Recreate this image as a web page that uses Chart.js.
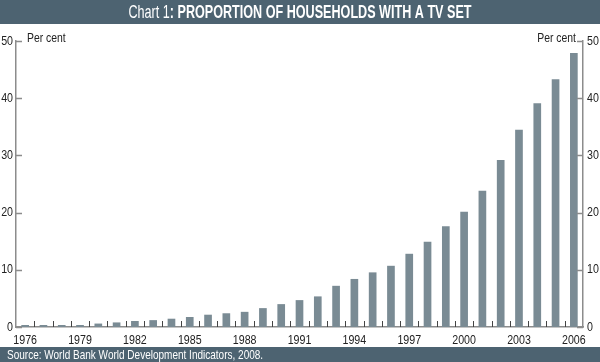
<!DOCTYPE html>
<html lang="en">
<head>
  <meta charset="UTF-8" />
  <title>Proportion of households with a TV set</title>
  <script src="https://cdn.jsdelivr.net/npm/chart.js"></script>
  <style>
    body { margin: 0; background: #fff; }
    .wrap { position: relative; width: 600px; height: 362px; }
  </style>
</head>
<body>
<div class="wrap">
  <canvas id="tvChart"></canvas>
</div>

<script>
  // data
  const years = ['1976','1977','1978','1979','1980','1981','1982','1983','1984','1985','1986',
    '1987','1988','1989','1990','1991','1992','1993','1994','1995','1996',
    '1997','1998','1999','2000','2001','2002','2003','2004','2005','2006'];
  const tvShare = [0.35, 0.35, 0.35, 0.35, 0.6, 0.8, 1.05, 1.2, 1.45, 1.75, 2.15,
    2.4, 2.65, 3.3, 4.0, 4.7, 5.35, 7.2, 8.4, 9.55, 10.7,
    12.8, 14.9, 17.6, 20.15, 23.8, 29.2, 34.5, 39.1, 43.3, 47.9];
  const yTicks = [0, 10, 20, 30, 40, 50];

  const FONT = '"Liberation Sans", Arial, sans-serif';
  const DARK = '#4d6371';
  const AXIS = '#8c8c8c';

  Chart.defaults.font.family = FONT;

  // condensed look: Liberation Sans squeezed horizontally
  function narrowText(c, str, x, y, font, squeeze, align) {
    c.save();
    c.font = font;
    const w = c.measureText(str).width * squeeze;
    let sx = x;
    if (align === 'right') sx = x - w;
    if (align === 'center') sx = x - w / 2;
    c.translate(sx, y);
    c.scale(squeeze, 1);
    c.textAlign = 'left';
    c.fillText(str, 0, 0);
    c.restore();
    return w;
  }

  const decor = {
    id: 'decor',
    beforeDraw(chart) {
      const c = chart.ctx;
      c.save();
      c.fillStyle = '#fff';
      c.fillRect(0, 0, chart.width, chart.height);
      c.fillStyle = DARK;
      c.fillRect(0, 0, chart.width, 24);
      c.fillRect(0, 347, chart.width, 15);
      c.restore();
    },
    afterDraw(chart) {
      const c = chart.ctx;
      const x = chart.scales.x, y = chart.scales.y;
      const area = chart.chartArea;
      c.save();
      // small inside ticks
      c.strokeStyle = AXIS;
      c.lineWidth = 1.5;
      yTicks.forEach(v => {
        const py = Math.round(y.getPixelForValue(v)) + 0.5;
        c.beginPath();
        c.moveTo(area.left, py); c.lineTo(area.left + 6, py);
        c.moveTo(area.right, py); c.lineTo(area.right - 6, py);
        c.stroke();
      });
      c.strokeStyle = '#444';
      c.lineWidth = 1;
      for (let i = 0; i < years.length - 1; i++) {
        const px = Math.round((x.getPixelForTick(i) + x.getPixelForTick(i + 1)) / 2) + 0.5;
        c.beginPath();
        c.moveTo(px, area.bottom); c.lineTo(px, area.bottom - 6);
        c.stroke();
      }
      c.textBaseline = 'middle';
      c.fillStyle = '#222';
      // tick labels
      const tf = '13px ' + FONT;
      yTicks.forEach(v => {
        const py = y.getPixelForValue(v);
        narrowText(c, String(v), area.left - 3, py, tf, 0.82, 'right');
        narrowText(c, String(v), area.right + 4, py, tf, 0.82, 'left');
      });
      years.forEach((yr, i) => {
        if (i % 3 === 0) narrowText(c, yr, x.getPixelForTick(i), 340, tf, 0.82, 'center');
      });
      // unit labels
      narrowText(c, 'Per cent', 27, 38, '13px ' + FONT, 0.8, 'left');
      narrowText(c, 'Per cent', 576, 38, '13px ' + FONT, 0.8, 'right');
      // title, centred
      c.fillStyle = '#fff';
      const t1 = 'Chart 1', t2 = ': PROPORTION OF HOUSEHOLDS WITH A TV SET';
      const sq = 0.7;
      c.font = '18px ' + FONT;
      const w1 = c.measureText(t1).width * sq;
      c.font = 'bold 18px ' + FONT;
      const w2 = c.measureText(t2).width * sq;
      const sx = (chart.width - w1 - w2) / 2;
      narrowText(c, t1, sx, 13, '18px ' + FONT, sq, 'left');
      narrowText(c, t2, sx + w1, 13, 'bold 18px ' + FONT, sq, 'left');
      // source
      narrowText(c, 'Source: World Bank World Development Indicators, 2008.', 7, 355, '13px ' + FONT, 0.77, 'left');
      c.restore();
    }
  };

  const yScale = (pos, w) => ({
    position: pos,
    min: 0,
    max: 50,
    grid: { display: false, drawTicks: false },
    border: { display: true, color: AXIS, width: 1.5 },
    ticks: { display: false, stepSize: 10 },
    afterFit: s => { s.width = w; }
  });

  new Chart(document.getElementById('tvChart'), {
    type: 'bar',
    data: {
      labels: years,
      datasets: [{
        data: tvShare,
        backgroundColor: '#7a8b94',
        barPercentage: 0.42,
        categoryPercentage: 1
      }]
    },
    options: {
      responsive: true,
      maintainAspectRatio: false,
      animation: false,
      layout: { padding: { top: 41, left: 0, right: 0, bottom: 0 } },
      plugins: { legend: { display: false }, tooltip: { enabled: false } },
      scales: {
        x: {
          offset: true,
          grid: { display: false, drawTicks: false },
          border: { display: true, color: AXIS, width: 1.5 },
          ticks: { display: false },
          afterFit: s => { s.height = 35; }
        },
        y: yScale('left', 16),
        y2: yScale('right', 17)
      }
    },
    plugins: [decor]
  });
</script>
</body>
</html>
